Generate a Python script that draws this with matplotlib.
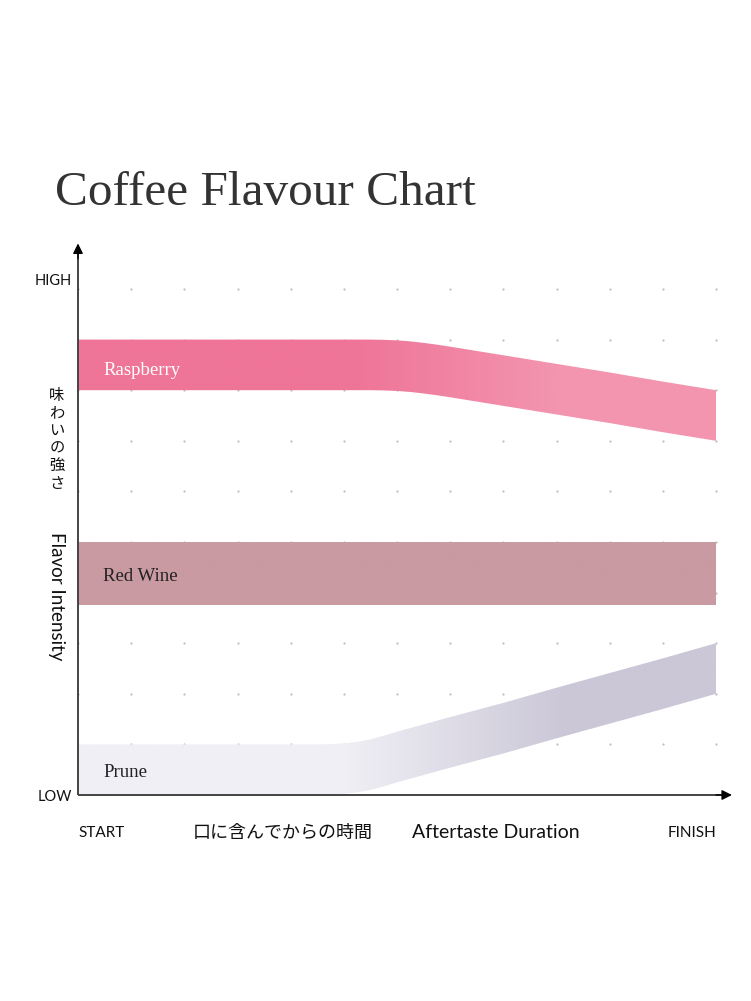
import matplotlib.pyplot as plt
import numpy as np
from matplotlib.colors import LinearSegmentedColormap

# band data (x in grid steps along aftertaste, y in intensity steps)
rasp_x = [0, 5, 5.5, 5.75, 6, 6.25, 6.5, 6.75, 7, 8, 9, 10, 11, 12]
rasp_top = [9, 9, 9, 8.995, 8.985, 8.965, 8.935, 8.9, 8.86, 8.69, 8.52, 8.35, 8.17, 8.0]
rasp_bot = [8, 8, 8, 7.995, 7.985, 7.965, 7.935, 7.9, 7.86, 7.69, 7.52, 7.35, 7.17, 7.0]

wine_x = [0, 12]
wine_top = [5, 5]
wine_bot = [3.75, 3.75]

prune_x = [0, 4.5, 4.75, 5, 5.25, 5.5, 5.75, 6, 7, 8, 9, 10, 11, 12]
prune_top = [1, 1, 1.005, 1.02, 1.05, 1.1, 1.17, 1.25, 1.54, 1.82, 2.12, 2.41, 2.7, 3.0]
prune_bot = [0, 0, 0.005, 0.02, 0.05, 0.1, 0.17, 0.25, 0.54, 0.82, 1.12, 1.41, 1.7, 2.0]

bands = ["Raspberry", "Red Wine", "Prune"]
grid_x = list(range(0, 13))
grid_y = list(range(1, 11))

fig = plt.figure(figsize=(7.51, 10.01), dpi=100)
ax = fig.add_axes([0, 0, 1, 1])
ax.axis('off')

# dotted grid
gx, gy = np.meshgrid(grid_x, grid_y)
ax.scatter(gx.ravel(), gy.ravel(), s=2.5, color='#bdbdbd', lw=0, zorder=1)


def band(x, lo, hi, c0, c1, g0, g1):
    poly = ax.fill_between(x, lo, hi, color='none', lw=0)
    cmap = LinearSegmentedColormap.from_list('b', [c0, c1])
    xs = np.linspace(x[0], x[-1], 500)
    vals = np.clip((xs - g0) / (g1 - g0), 0, 1)
    im = ax.imshow(vals[None, :], extent=[x[0], x[-1], min(lo), max(hi)],
                   cmap=cmap, vmin=0, vmax=1, aspect='auto', origin='lower',
                   interpolation='bilinear', zorder=2)
    im.set_clip_path(poly.get_paths()[0], ax.transData)


band(rasp_x, rasp_bot, rasp_top, '#ef7598', '#f395af', 5.2, 9.0)
band(wine_x, wine_bot, wine_top, '#c99aa1', '#c99aa1', 0, 12)
band(prune_x, prune_bot, prune_top, '#f0eff5', '#cbc7d7', 5.0, 9.2)

# axes with arrows
ax.plot([0, 0], [0, 10.75], color='#444444', lw=1.4, zorder=5, solid_capstyle='butt')
ax.plot([0, 12.2], [0, 0], color='#444444', lw=1.4, zorder=5, solid_capstyle='butt')
ax.annotate('', xy=(0, 10.9), xytext=(0, 10.6),
            arrowprops=dict(arrowstyle='-|>', color='black', lw=1.0,
                            mutation_scale=15, shrinkA=0, shrinkB=0), zorder=6)
ax.annotate('', xy=(12.3, 0), xytext=(12.0, 0),
            arrowprops=dict(arrowstyle='-|>', color='black', lw=1.0,
                            mutation_scale=15, shrinkA=0, shrinkB=0), zorder=6)

serif = 'Liberation Serif'
sans = 'Lato'
cjk = ['Noto Sans CJK JP', 'DejaVu Sans']

ax.text(-0.43, 11.66, "Coffee Flavour Chart", fontsize=35.5, family=serif,
        color='#333333', ha='left', va='baseline')

ax.text(0.47, 8.38, bands[0], fontsize=13.5, family=serif, color='white', va='center')
ax.text(0.47, 4.31, bands[1], fontsize=13.5, family=serif, color='#222222', va='center')
ax.text(0.47, 0.44, bands[2], fontsize=13.5, family=serif, color='#222222', va='center')

ax.text(-0.11, 10.16, "HIGH", fontsize=10.5, family=sans, ha='right', va='center', color='#111')
ax.text(-0.11, -0.04, "LOW", fontsize=10.5, family=sans, ha='right', va='center', color='#111')
ax.text(0, -0.75, "START", fontsize=11, family=sans, ha='left', va='center', color='#111')
ax.text(12, -0.75, "FINISH", fontsize=11, family=sans, ha='right', va='center', color='#111')
ax.text(3.86, -0.75, "口に含んでからの時間", fontsize=13, family=cjk,
        ha='center', va='center', color='#111')
ax.text(6.28, -0.75, "Aftertaste Duration", fontsize=14, family=sans,
        ha='left', va='center', color='#111')

for i, ch in enumerate("味わいの強さ"):
    ax.text(-0.395, 7.9 - i * 0.348, ch, fontsize=11, family=cjk,
            ha='center', va='center', color='#111')
ax.text(-0.395, 3.92, "Flavor Intensity", fontsize=13.5, family=sans,
        rotation=-90, ha='center', va='center', color='#111')

ax.set_xlim(-1.467, 12.658)
ax.set_ylim(-4.071, 15.711)

fig.savefig('out.png', dpi=100)
